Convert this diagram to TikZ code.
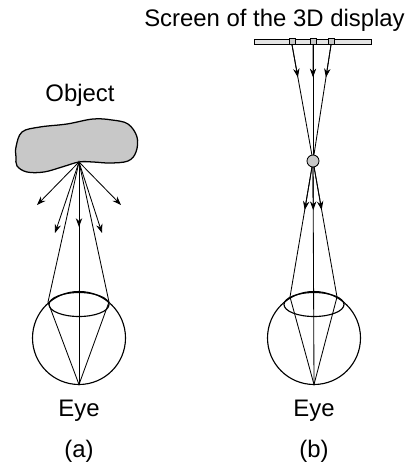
\documentclass[tikz,border=0pt]{standalone}
\usepackage{fontspec}
\setmainfont{Liberation Sans}
\usetikzlibrary{arrows.meta,calc}
\definecolor{objGray}{HTML}{C8C8C8}
\definecolor{barGray}{HTML}{E4E4E4}
% eyeball: circle, lens and caption; #1 name prefix, #2 x of centre
\newcommand{\eyeball}[2]{%
  \draw[eyeln] (#2,338) circle[radius=46.5];
  \draw[eyeln] (#2,304.5) ellipse[x radius=30, y radius=12];
  \coordinate (#1ret) at (#2,384.5);
  \node[lbl, anchor=base] (#1cap) at (#2,416) {Eye};}

\begin{document}
\begin{tikzpicture}[x=0.025cm, y=-0.025cm,
  ray/.style={line width=0.6pt},
  arr/.style={ray, -{Stealth[length=2.2mm, width=1.6mm, inset=0.7mm]}},
  eyeln/.style={line width=0.8pt},
  lbl/.style={font=\fontsize{17}{20}\selectfont, inner sep=0pt},
  pix/.style={draw, line width=0.5pt, fill=objGray, minimum size=0.15cm, inner sep=0pt}]
\useasboundingbox (0,0) rectangle (413,464);
% (a) real object
\node[lbl, anchor=base] (objlbl) at (80,102) {Object};
\draw[line width=0.9pt, fill=objGray] plot[smooth cycle, tension=0.6] coordinates {
  (16,147) (22,132) (40,127) (67,124) (93,119) (112,120) (128,124) (137,137)
  (136,152) (128,161) (110,163) (93,162) (79,162) (62,167) (44,172) (27,172)
  (17,166) (16,157)};
\coordinate (src) at (79,162);
\eyeball{a}{79}
\coordinate (lensLa) at (48,302);
\coordinate (lensRa) at (109,302);
\draw[ray] (src) -- (lensLa) -- (aret) -- (lensRa) -- cycle;
\draw[ray] (src) -- (aret);
\foreach \n/\x/\y in {ta1/37/205, ta2/55/233, ta3/79/227, ta4/102/233, ta5/121/205}{
  \coordinate (\n) at (\x,\y);
  \draw[arr] (src) -- (\n);}
\node[lbl, anchor=base] (capa) at (79,457) {(a)};
% (b) 3D display
\node[lbl, anchor=base] (scrlbl) at (274.5,27) {Screen of the 3D display};
\draw[line width=0.6pt, fill=barGray] (254,39) rectangle (371,44);
\foreach \n/\x in {px1/292, px2/313, px3/331}
  {\node[pix] (\n) at (\x,41.5) {};}
\coordinate (voxc) at (313,161);
\foreach \n in {px1,px2,px3}{
  \draw[ray] (\n.south) -- (voxc);
  \draw[arr] (\n.south) -- ($(\n.south)!0.28!(voxc)$);}
\eyeball{b}{314}
\coordinate (lensLb) at (290,297);
\coordinate (lensRb) at (337,297);
\draw[ray] (voxc) -- (lensLb) -- (bret) -- (lensRb) -- cycle;
\draw[ray] (voxc) -- (bret);
\draw[arr] (voxc) -- ($(voxc)!0.36!(lensLb)$);
\draw[arr] (voxc) -- ($(voxc)!0.36!(lensRb)$);
\draw[arr] (voxc) -- ($(voxc)!0.22!(bret)$);
\node[circle, draw, line width=0.6pt, fill=objGray, minimum size=0.3cm, inner sep=0pt] (vox) at (voxc) {};
\node[lbl, anchor=base] (capb) at (314,457) {(b)};
\end{tikzpicture}
\end{document}
